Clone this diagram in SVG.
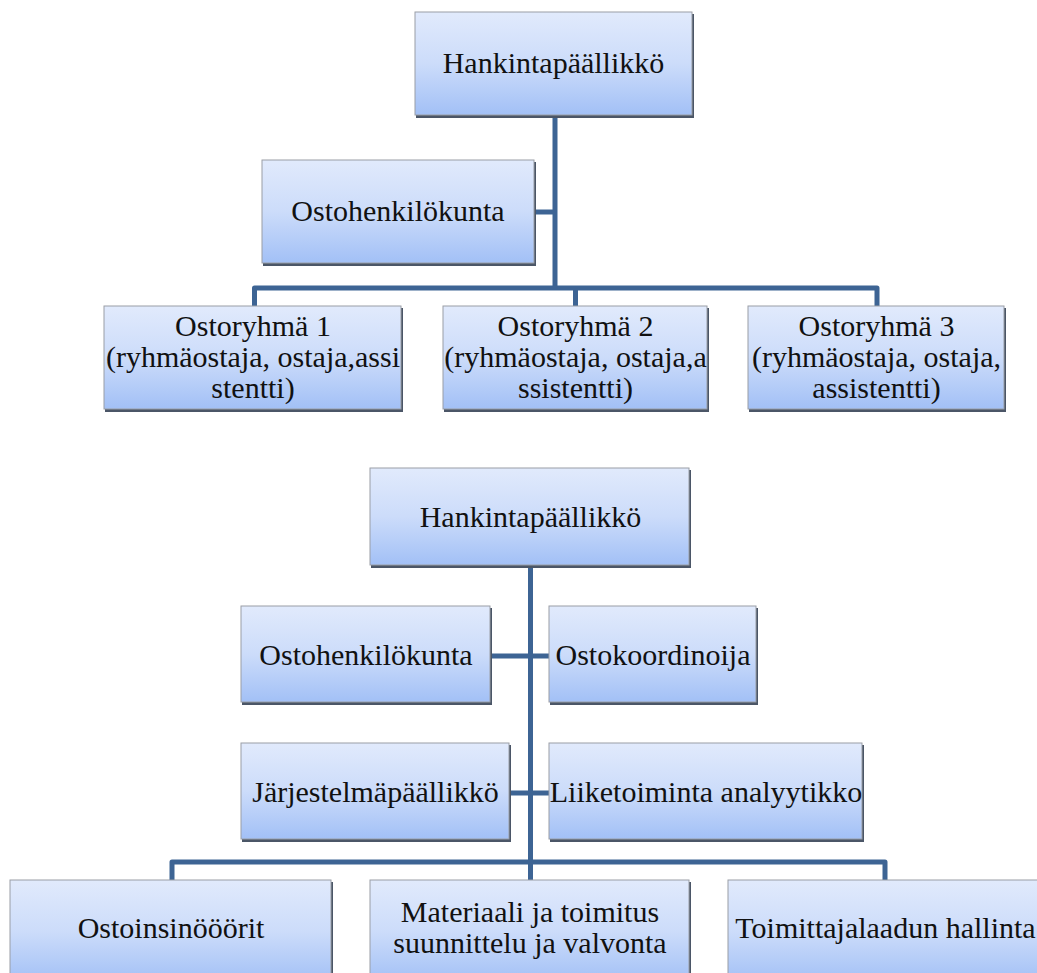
<svg xmlns="http://www.w3.org/2000/svg" width="1037" height="973" viewBox="0 0 1037 973">
  <defs>
    <linearGradient id="boxFill" x1="0" y1="0" x2="0" y2="1">
      <stop offset="0" stop-color="#e1eafc"/>
      <stop offset="0.5" stop-color="#ccdcfa"/>
      <stop offset="1" stop-color="#a2c0f6"/>
    </linearGradient>
    <style>
      .shadow { fill: #4b5667; }
      .box { fill: url(#boxFill); stroke: #9a9ea6; stroke-width: 1; }
      .label { font-family: "Liberation Serif", "Times New Roman", serif; font-size: 30px; fill: #111; text-anchor: middle; }
      .conn { fill: none; stroke: #3d6494; stroke-width: 5; stroke-linejoin: round; }
    </style>
  </defs>
  <rect width="1037" height="973" fill="#ffffff"/>

  <!-- connectors -->
  <g id="connectors">
    <!-- upper chart -->
    <path class="conn" d="M555 116 V288"/>
    <path class="conn" d="M535 212 H555"/>
    <path class="conn" d="M254.5 307 V288 H877 V307"/>
    <path class="conn" d="M575.5 288 V307"/>
    <!-- lower chart -->
    <path class="conn" d="M530.5 566 V862"/>
    <path class="conn" d="M491 656 H549"/>
    <path class="conn" d="M510 793 H549"/>
    <path class="conn" d="M172 881 V862 H885 V881"/>
    <path class="conn" d="M530.5 862 V881"/>
  </g>

  <!-- upper chart -->
  <g id="hankinta1">
    <rect class="shadow" x="416" y="14" width="278" height="104"/>
    <rect class="box" x="415" y="12" width="277" height="103"/>
    <text class="label" x="553.5" y="73">Hankintapäällikkö</text>
  </g>
  <g id="ostohenkilokunta1">
    <rect class="shadow" x="263" y="162" width="273" height="104"/>
    <rect class="box" x="262" y="160" width="272" height="103"/>
    <text class="label" x="398" y="221">Ostohenkilökunta</text>
  </g>
  <g id="ostoryhma1">
    <rect class="shadow" x="105" y="308" width="298" height="104"/>
    <rect class="box" x="104" y="306" width="297" height="103"/>
    <text class="label" x="253" y="336">Ostoryhmä 1</text>
    <text class="label" x="253" y="367">(ryhmäostaja, ostaja,assi</text>
    <text class="label" x="253" y="398">stentti)</text>
  </g>
  <g id="ostoryhma2">
    <rect class="shadow" x="444" y="308" width="265" height="104"/>
    <rect class="box" x="443" y="306" width="264" height="103"/>
    <text class="label" x="575.5" y="336">Ostoryhmä 2</text>
    <text class="label" x="575.5" y="367">(ryhmäostaja, ostaja,a</text>
    <text class="label" x="575.5" y="398">ssistentti)</text>
  </g>
  <g id="ostoryhma3">
    <rect class="shadow" x="749" y="308" width="257" height="104"/>
    <rect class="box" x="748" y="306" width="256" height="103"/>
    <text class="label" x="876.5" y="336">Ostoryhmä 3</text>
    <text class="label" x="876.5" y="367">(ryhmäostaja, ostaja,</text>
    <text class="label" x="876.5" y="398">assistentti)</text>
  </g>

  <!-- lower chart -->
  <g id="hankinta2">
    <rect class="shadow" x="371" y="470" width="320" height="98"/>
    <rect class="box" x="370" y="468" width="319" height="97"/>
    <text class="label" x="530.5" y="527">Hankintapäällikkö</text>
  </g>
  <g id="ostohenkilokunta2">
    <rect class="shadow" x="242" y="608" width="250" height="97"/>
    <rect class="box" x="241" y="606" width="249" height="96"/>
    <text class="label" x="366" y="665">Ostohenkilökunta</text>
  </g>
  <g id="ostokoordinoija">
    <rect class="shadow" x="550" y="608" width="208" height="97"/>
    <rect class="box" x="549" y="606" width="207" height="96"/>
    <text class="label" x="653" y="665">Ostokoordinoija</text>
  </g>
  <g id="jarjestelmapaallikko">
    <rect class="shadow" x="242" y="745" width="269" height="97"/>
    <rect class="box" x="241" y="743" width="268" height="96"/>
    <text class="label" x="375.5" y="802">Järjestelmäpäällikkö</text>
  </g>
  <g id="liiketoiminta">
    <rect class="shadow" x="550" y="745" width="314" height="97"/>
    <rect class="box" x="549" y="743" width="313" height="96"/>
    <text class="label" x="706" y="802">Liiketoiminta analyytikko</text>
  </g>
  <g id="ostoinsinoorit">
    <rect class="shadow" x="11" y="882" width="322" height="104"/>
    <rect class="box" x="10" y="880" width="321" height="103"/>
    <text class="label" x="171" y="938">Ostoinsinööörit</text>
  </g>
  <g id="materiaali">
    <rect class="shadow" x="371" y="882" width="320" height="104"/>
    <rect class="box" x="370" y="880" width="319" height="103"/>
    <text class="label" x="530" y="922">Materiaali ja toimitus</text>
    <text class="label" x="530" y="953">suunnittelu ja valvonta</text>
  </g>
  <g id="toimittajalaatu">
    <rect class="shadow" x="729" y="882" width="316" height="104"/>
    <rect class="box" x="728" y="880" width="315" height="103"/>
    <text class="label" x="885.5" y="938">Toimittajalaadun hallinta</text>
  </g>
</svg>
